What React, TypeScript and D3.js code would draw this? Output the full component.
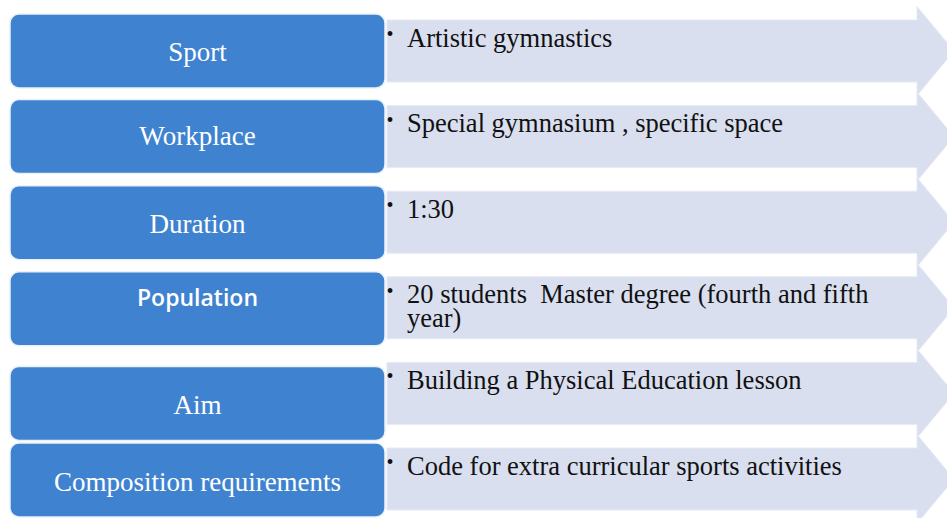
import React, { useEffect } from "react";
import * as d3 from "d3";

const labels: string[] = [
  "Sport",
  "Workplace",
  "Duration",
  "Population",
  "Aim",
  "Composition requirements",
];

const details: string[][] = [
  ["Artistic gymnastics"],
  ["Special gymnasium , specific space"],
  ["1:30"],
  ["20 students  Master degree (fourth and fifth", "year)"],
  ["Building a Physical Education lesson"],
  ["Code for extra curricular sports activities"],
];

// layout constants (not data)
const W = 947;
const H = 518;
const BOX_SHIFT = [0, 0, 0.5, 1, 10, 1];
const LABEL_SHIFT = [1, -0.5, 1.5, -11.5, 1.5, 2];
const LABEL_FONT = [
  "'Liberation Serif', serif",
  "'Liberation Serif', serif",
  "'Liberation Serif', serif",
  "'Open Sans', sans-serif",
  "'Liberation Serif', serif",
  "'Liberation Serif', serif",
];

export default function App() {
  useEffect(() => {
    document.body.style.margin = "0";
  }, []);

  const idx = d3.range(labels.length);
  const yCenter = d3.scaleLinear().domain([0, labels.length - 1]).range([51, 479]);

  const boxX = 10;
  const boxW = 375;
  const boxH = 74;

  const arrowX0 = 387;
  const bodyHalf = 31;
  const headBase = 917;
  const headHalf = 44.5;
  const tipX = 954;

  const arrowPath = (c: number) => {
    const p = d3.path();
    p.moveTo(arrowX0, c - bodyHalf);
    p.lineTo(headBase, c - bodyHalf);
    p.lineTo(headBase, c - headHalf);
    p.lineTo(tipX, c);
    p.lineTo(headBase, c + headHalf);
    p.lineTo(headBase, c + bodyHalf);
    p.lineTo(arrowX0, c + bodyHalf);
    p.closePath();
    return p.toString();
  };

  const textX = 407;
  const lineH = 24;

  return (
    <svg width={W} height={H} style={{ display: "block", background: "#ffffff" }}>
      {idx.map((i) => (
        <path
          key={"a" + i}
          d={arrowPath(yCenter(i))}
          fill="#D9DFEF"
          stroke="#E6EAF5"
          strokeWidth={1}
        />
      ))}
      {idx.map((i) => {
        const c = yCenter(i) + BOX_SHIFT[i];
        return (
          <g key={"b" + i}>
            <rect
              x={boxX}
              y={c - boxH / 2}
              width={boxW}
              height={boxH}
              rx={9}
              ry={9}
              fill="#3F83D0"
              stroke="#EAF1FA"
              strokeWidth={1.5}
            />
            <text
              x={boxX + boxW / 2}
              y={c + LABEL_SHIFT[i] + (i === 3 ? 8.5 : 9)}
              textAnchor="middle"
              fill="#ffffff"
              fontFamily={LABEL_FONT[i]}
              fontWeight={i === 3 ? 600 : 400}
              fontSize={i === 3 ? 23 : 27}
            >
              {labels[i]}
            </text>
          </g>
        );
      })}
      {idx.map((i) => {
        const top = yCenter(i) - bodyHalf;
        const base = top + 26.5;
        return (
          <g key={"t" + i}>
            <text
              x={386.5}
              y={base - 5.5}
              fontSize={20}
              fill="#111"
              fontFamily="'Liberation Serif', serif"
            >
              •
            </text>
            {details[i].map((line, j) => (
              <text
                key={j}
                x={textX}
                y={base + j * lineH}
                fontSize={26.5}
                fill="#111"
                fontFamily="'Liberation Serif', serif"
                style={{ whiteSpace: "pre" }}
              >
                {line}
              </text>
            ))}
          </g>
        );
      })}
    </svg>
  );
}
